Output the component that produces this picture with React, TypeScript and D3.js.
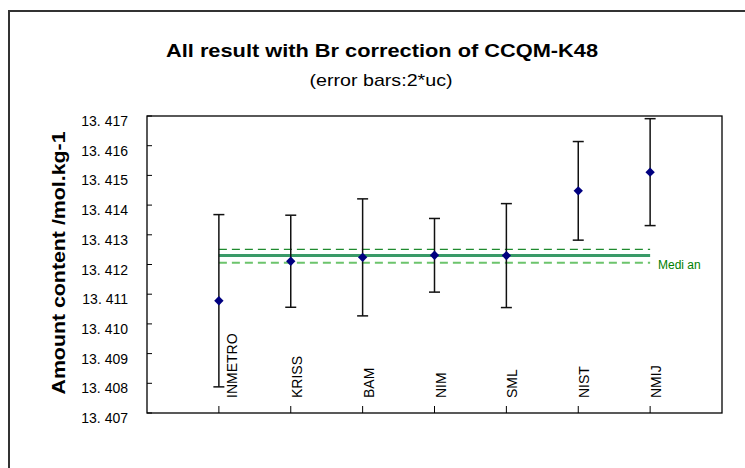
import React from 'react';
import * as d3 from 'd3';

// lab results, CCQM-K48 with Br correction
const labs = ['INMETRO', 'KRISS', 'BAM', 'NIM', 'SML', 'NIST', 'NMIJ'];
const values = [13.41078, 13.41211, 13.41224, 13.41231, 13.4123, 13.41448, 13.41511];
const expandedU = [0.0029, 0.00155, 0.00197, 0.00124, 0.00175, 0.00166, 0.0018];
const yTicks = [13.407, 13.408, 13.409, 13.41, 13.411, 13.412, 13.413, 13.414, 13.415, 13.416, 13.417];
const median = [13.4123];
const medianBand = [13.41206, 13.41251];

const W = 745;
const H = 468;
const margin = { left: 147, top: 116, right: 23, bottom: 55 };
const font = '"Liberation Sans", Arial, sans-serif';

const App: React.FC = () => {
  const innerW = W - margin.left - margin.right;
  const innerH = H - margin.top - margin.bottom;

  const x = d3.scaleLinear().domain([0, labs.length + 1]).range([margin.left, margin.left + innerW]);
  const y = d3.scaleLinear().domain([13.407, 13.417]).range([margin.top + innerH, margin.top]);

  const fmt = (v: number) => d3.format('.3f')(v).replace('.', '. ');
  const diamond = d3.symbol().type(d3.symbolDiamond2).size(56)();
  const x0 = x(1);
  const x1 = x(labs.length);

  return (
    <div style={{ position: 'absolute', left: 0, top: 0 }}>
      <svg width={W} height={H} style={{ display: 'block', fontFamily: font }}>
        <rect x={0} y={0} width={W} height={H} fill="#fff" />
        {/* outer chart frame */}
        <path d={`M9,${H} V11 H${W}`} fill="none" stroke="#333" strokeWidth={2} />

        <text x={382} y={57} textAnchor="middle" fontSize={19} fontWeight="bold" textLength={432} lengthAdjust="spacingAndGlyphs">
          All result with Br correction of CCQM-K48
        </text>
        <text x={381} y={86} textAnchor="middle" fontSize={17} textLength={143} lengthAdjust="spacingAndGlyphs">
          (error bars:2*uc)
        </text>

        <text transform="translate(65,263) rotate(-90)" textAnchor="middle" fontSize={19} fontWeight="bold" textLength={263} lengthAdjust="spacingAndGlyphs">
          Amount content /mol.kg-1
        </text>

        {/* plot area */}
        <rect x={margin.left} y={margin.top} width={innerW} height={innerH} fill="#fff" stroke="#000" strokeWidth={1.3} />

        {yTicks.map((t) => (
          <g key={t}>
            <line x1={margin.left} x2={margin.left + 5} y1={y(t)} y2={y(t)} stroke="#000" />
            <text x={128} y={y(t) + 10} textAnchor="end" fontSize={14}>{fmt(t)}</text>
          </g>
        ))}

        {labs.map((l, i) => (
          <g key={l}>
            <line x1={x(i + 1)} x2={x(i + 1)} y1={margin.top + innerH} y2={margin.top + innerH - 7} stroke="#000" />
            <text transform={`translate(${x(i + 1) + (i === 0 ? 18 : 11)},398) rotate(-90)`} fontSize={14}>{l}</text>
          </g>
        ))}

        {/* median and its band */}
        <line x1={x0} x2={x1} y1={y(medianBand[1])} y2={y(medianBand[1])} stroke="#1f8a2e" strokeWidth={1.3} strokeDasharray="8,5" />
        <line x1={x0} x2={x1} y1={y(medianBand[0])} y2={y(medianBand[0])} stroke="#6cc46c" strokeWidth={2} strokeDasharray="8,5" />
        <line x1={x0} x2={x1} y1={y(median[0])} y2={y(median[0])} stroke="#3a9a68" strokeWidth={3} />
        <text x={658} y={269} fontSize={12} fill="#008000">Medi an</text>

        {/* error bars and results */}
        {labs.map((l, i) => {
          const cx = x(i + 1);
          const top = y(values[i] + expandedU[i]);
          const bot = y(values[i] - expandedU[i]);
          return (
            <g key={l} stroke="#111" strokeWidth={1.5}>
              <line x1={cx} x2={cx} y1={top} y2={bot} />
              <line x1={cx - 5.5} x2={cx + 5.5} y1={top} y2={top} />
              <line x1={cx - 5.5} x2={cx + 5.5} y1={bot} y2={bot} />
              <path d={diamond || ''} transform={`translate(${cx},${y(values[i])})`} fill="#000080" stroke="none" />
            </g>
          );
        })}
      </svg>
    </div>
  );
};

export default App;
